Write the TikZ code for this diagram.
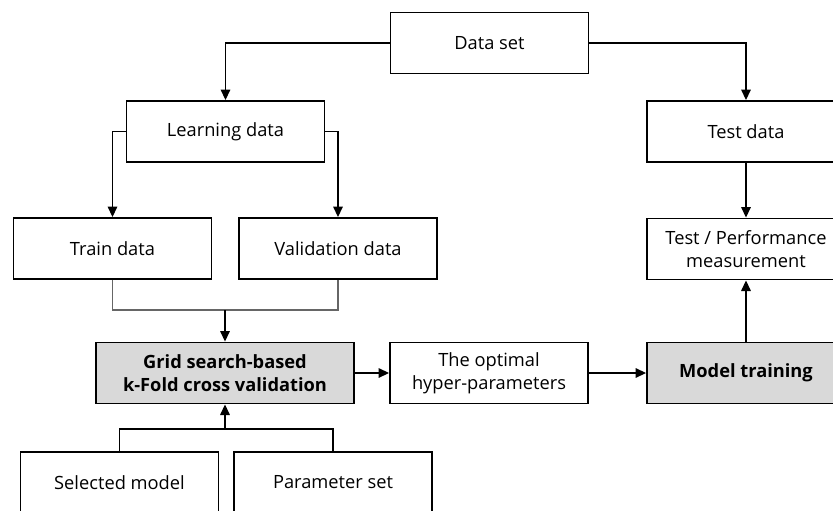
\documentclass[tikz,border=0pt]{standalone}
\usepackage{fontspec}
\setmainfont{Open Sans}
\usetikzlibrary{arrows.meta}
\begin{document}
\begin{tikzpicture}
            [
                x=0.02cm, y=-0.02cm,
                box/.style = {draw, line width=1.1pt, minimum width=3.96cm, minimum height=1.22cm,
                    inner sep=0pt, align=center, font=\fontsize{10.4}{13}\selectfont},
                keybox/.style = {box, fill=black!15, font=\fontsize{10.4}{13}\selectfont\bfseries},
                link/.style = {line width=0.65pt},
                arr/.style = {link, -{Triangle[length=6pt, width=5.5pt]}}
            ]
            \useasboundingbox (0,0) rectangle (833,511);
            \node[box] (data) at (489.5, 43) {Data set};
            \node[box] (learn) at (225.5, 131.5) {Learning data};
            \node[box] (test) at (746, 131.5) {Test data};
            \node[box] (train) at (112.5, 248.5) {Train data};
            \node[box] (valid) at (338, 248.5) {Validation data};
            \node[box] (perf) at (746, 249) {Test / Performance\\measurement};
            \node[keybox, minimum width=5.16cm] (grid) at (225, 373) {Grid search-based\\k-Fold cross validation};
            \node[box] (optim) at (489, 373) {The optimal\\hyper-parameters};
            \node[keybox] (model) at (746, 373) {Model training};
            \node[box] (select) at (119.5, 482.5) {Selected model};
            \node[box] (param) at (333, 482.5) {Parameter set};
            \coordinate (join) at (225, 310);
            \coordinate (fork) at (225, 429);
            \draw[arr] (data.west) -| (learn.north);
            \draw[arr] (data.east) -| (test.north);
            \draw[arr] (learn.west) -| (train.north);
            \draw[arr] (learn.east) -| (valid.north);
            \draw[link, black!60] (train.south) |- (join) -| (valid.south);
            \draw[arr] (join) -- (grid.north);
            \draw[link] (select.north) |- (fork) -| (param.north);
            \draw[arr] (fork) -- (grid.south);
            \draw[arr] (grid.east) -- (optim.west);
            \draw[arr] (optim.east) -- (model.west);
            \draw[arr] (test.south) -- (perf.north);
            \draw[arr] (model.north) -- (perf.south);
        \end{tikzpicture}
\end{document}
